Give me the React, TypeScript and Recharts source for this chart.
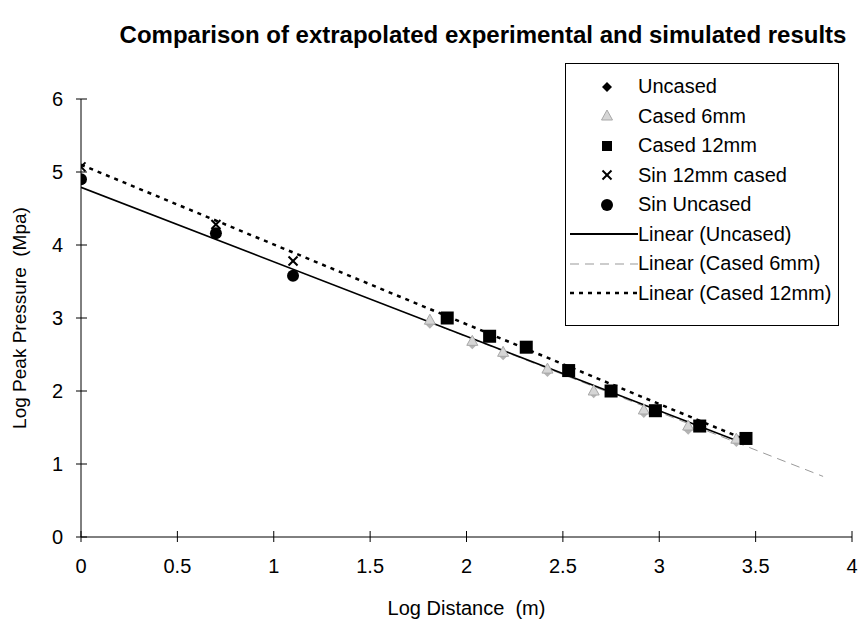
import React from "react";
import {
  ComposedChart,
  Scatter,
  Line,
  XAxis,
  YAxis,
} from "recharts";

// measured series (log distance, log peak pressure)
const uncased = [
  { x: 1.81, y: 2.92 },
  { x: 2.03, y: 2.64 },
  { x: 2.19, y: 2.49 },
  { x: 2.42, y: 2.26 },
  { x: 2.66, y: 1.97 },
  { x: 2.92, y: 1.7 },
  { x: 3.15, y: 1.47 },
  { x: 3.4, y: 1.3 },
];
const cased6 = [
  { x: 1.81, y: 2.97 },
  { x: 2.03, y: 2.68 },
  { x: 2.19, y: 2.53 },
  { x: 2.42, y: 2.3 },
  { x: 2.66, y: 2.0 },
  { x: 2.92, y: 1.74 },
  { x: 3.15, y: 1.52 },
  { x: 3.4, y: 1.34 },
];
const cased12 = [
  { x: 1.9, y: 3.0 },
  { x: 2.12, y: 2.75 },
  { x: 2.31, y: 2.6 },
  { x: 2.53, y: 2.28 },
  { x: 2.75, y: 2.0 },
  { x: 2.98, y: 1.73 },
  { x: 3.21, y: 1.52 },
  { x: 3.45, y: 1.35 },
];
const sin12 = [
  { x: 0, y: 5.07 },
  { x: 0.7, y: 4.28 },
  { x: 1.1, y: 3.78 },
];
const sinUncased = [
  { x: 0, y: 4.9 },
  { x: 0.7, y: 4.16 },
  { x: 1.1, y: 3.58 },
];
// trendline end points
const linUncased = [
  { x: 0, y: 4.79 },
  { x: 3.42, y: 1.3 },
];
const linCased6 = [
  { x: 1.8, y: 2.95 },
  { x: 3.85, y: 0.83 },
];
const linCased12 = [
  { x: 0, y: 5.1 },
  { x: 3.45, y: 1.33 },
];

const xTicks = [0, 0.5, 1, 1.5, 2, 2.5, 3, 3.5, 4];
const yTicks = [0, 1, 2, 3, 4, 5, 6];

const FONT = "'Liberation Sans', Arial, sans-serif";

const Diamond = (p: any) => (
  <polygon
    points={`${p.cx},${p.cy - 5} ${p.cx + 5},${p.cy} ${p.cx},${p.cy + 5} ${p.cx - 5},${p.cy}`}
    fill={p.fill || "#000"}
  />
);
const Triangle = (p: any) => (
  <polygon
    points={`${p.cx},${p.cy - 6} ${p.cx + 5.5},${p.cy + 4} ${p.cx - 5.5},${p.cy + 4}`}
    fill="#d6d6d6"
    stroke="#a8a8a8"
    strokeWidth={1}
  />
);
const Square = (p: any) => (
  <rect x={p.cx - 6.5} y={p.cy - 6.5} width={13} height={13} fill="#000" />
);
const Cross = (p: any) => (
  <g stroke="#000" strokeWidth={2}>
    <line x1={p.cx - 4.5} y1={p.cy - 4.5} x2={p.cx + 4.5} y2={p.cy + 4.5} />
    <line x1={p.cx + 4.5} y1={p.cy - 4.5} x2={p.cx - 4.5} y2={p.cy + 4.5} />
  </g>
);
const Dot = (p: any) => <circle cx={p.cx} cy={p.cy} r={6} fill="#000" />;
const GrayDiamond = (p: any) => <Diamond cx={p.cx} cy={p.cy} fill="#b4b4b4" />;

const YTick = (p: any) => {
  const ax = p.x + 5 + 13;
  return (
    <g>
      <line x1={ax} x2={ax + 6} y1={p.y} y2={p.y} stroke="#000" />
      <text x={p.x} y={p.y} dy="0.36em" textAnchor="end" fontSize={20} fontFamily={FONT} fill="#000">
        {p.payload.value}
      </text>
    </g>
  );
};
const XTick = (p: any) => {
  const ay = p.y - 5 - 13;
  return (
    <g>
      <line x1={p.x} x2={p.x} y1={ay} y2={ay - 6} stroke="#000" />
      <text x={p.x} y={p.y + 18} textAnchor="middle" fontSize={20} fontFamily={FONT} fill="#000">
        {p.payload.value}
      </text>
    </g>
  );
};

const legendItems = [
  { name: "Uncased", kind: "diamond" },
  { name: "Cased 6mm", kind: "triangle" },
  { name: "Cased 12mm", kind: "square" },
  { name: "Sin 12mm cased", kind: "cross" },
  { name: "Sin Uncased", kind: "dot" },
  { name: "Linear (Uncased)", kind: "solid" },
  { name: "Linear (Cased 6mm)", kind: "dash" },
  { name: "Linear (Cased 12mm)", kind: "dot-line" },
];

const LegendIcon = ({ kind }: { kind: string }) => {
  const cx = 41;
  const cy = 10;
  if (kind === "diamond") return <Diamond cx={cx} cy={cy} />;
  if (kind === "triangle") return <Triangle cx={cx} cy={cy} />;
  if (kind === "square") return <rect x={cx - 5} y={cy - 5} width={10} height={10} fill="#000" />;
  if (kind === "cross") return <Cross cx={cx} cy={cy} />;
  if (kind === "dot") return <Dot cx={cx} cy={cy} />;
  if (kind === "solid") return <line x1={4} x2={72} y1={cy} y2={cy} stroke="#000" strokeWidth={1.8} />;
  if (kind === "dash")
    return <line x1={4} x2={72} y1={cy} y2={cy} stroke="#999" strokeWidth={1} strokeDasharray="9 6" />;
  return <line x1={4} x2={72} y1={cy} y2={cy} stroke="#000" strokeWidth={2.5} strokeDasharray="4 5" />;
};

export default function App() {
  return (
    <div
      style={{
        position: "absolute",
        left: 0,
        top: 0,
        width: 863,
        height: 620,
        background: "#fff",
        fontFamily: FONT,
      }}
    >
      <div
        style={{
          position: "absolute",
          left: 0,
          width: 863,
          top: 21,
          paddingLeft: 103,
          boxSizing: "border-box",
          textAlign: "center",
          fontSize: 24,
          fontWeight: "bold",
          lineHeight: "28px",
          whiteSpace: "nowrap",
        }}
      >
        Comparison of extrapolated experimental and simulated results
      </div>
      <ComposedChart
        width={863}
        height={620}
        margin={{ top: 99, right: 11, left: 31, bottom: 53 }}
      >
        <XAxis
          type="number"
          dataKey="x"
          domain={[0, 4]}
          ticks={xTicks}
          allowDataOverflow
          height={30}
          tickSize={5}
          tickMargin={13}
          axisLine={{ stroke: "#000", strokeWidth: 1 }}
          tickLine={{ stroke: "#000" }}
          tick={<XTick />}
        />
        <YAxis
          type="number"
          dataKey="y"
          domain={[0, 6]}
          ticks={yTicks}
          allowDataOverflow
          width={50}
          tickSize={5}
          tickMargin={13}
          axisLine={{ stroke: "#000", strokeWidth: 1 }}
          tickLine={{ stroke: "#000" }}
          tick={<YTick />}
        />
        <Line data={linCased6} dataKey="y" stroke="#9a9a9a" strokeWidth={1} strokeDasharray="9 6" dot={false} isAnimationActive={false} />
        <Line data={linUncased} dataKey="y" stroke="#000" strokeWidth={1.6} dot={false} isAnimationActive={false} />
        <Line data={linCased12} dataKey="y" stroke="#000" strokeWidth={2.5} strokeDasharray="4 5" dot={false} isAnimationActive={false} />
        <Scatter data={uncased} dataKey="y" shape={<GrayDiamond />} isAnimationActive={false} />
        <Scatter data={cased6} dataKey="y" shape={<Triangle />} isAnimationActive={false} />
        <Scatter data={cased12} dataKey="y" shape={<Square />} isAnimationActive={false} />
        <Scatter data={sin12} dataKey="y" shape={<Cross />} isAnimationActive={false} />
        <Scatter data={sinUncased} dataKey="y" shape={<Dot />} isAnimationActive={false} />
      </ComposedChart>
      <div
        style={{
          position: "absolute",
          left: 20,
          top: 318,
          transform: "translate(-50%, -50%) rotate(-90deg)",
          whiteSpace: "pre",
          fontSize: 19,
          lineHeight: "22px",
        }}
      >
        {"Log Peak Pressure  (Mpa)"}
      </div>
      <div
        style={{
          position: "absolute",
          left: 0,
          width: 863,
          paddingLeft: 70,
          boxSizing: "border-box",
          top: 596,
          textAlign: "center",
          whiteSpace: "pre",
          fontSize: 20,
          lineHeight: "24px",
        }}
      >
        {"Log Distance  (m)"}
      </div>
      <div
        style={{
          position: "absolute",
          left: 565,
          top: 63,
          width: 274,
          height: 263,
          border: "1px solid #000",
          boxSizing: "border-box",
          background: "#fff",
          paddingTop: 8,
        }}
      >
        {legendItems.map((it) => (
          <div key={it.name} style={{ display: "flex", alignItems: "center", height: 29.5 }}>
            <svg width={72} height={20} style={{ display: "block" }}>
              <LegendIcon kind={it.kind} />
            </svg>
            <span style={{ fontSize: 20, whiteSpace: "nowrap" }}>{it.name}</span>
          </div>
        ))}
      </div>
    </div>
  );
}
